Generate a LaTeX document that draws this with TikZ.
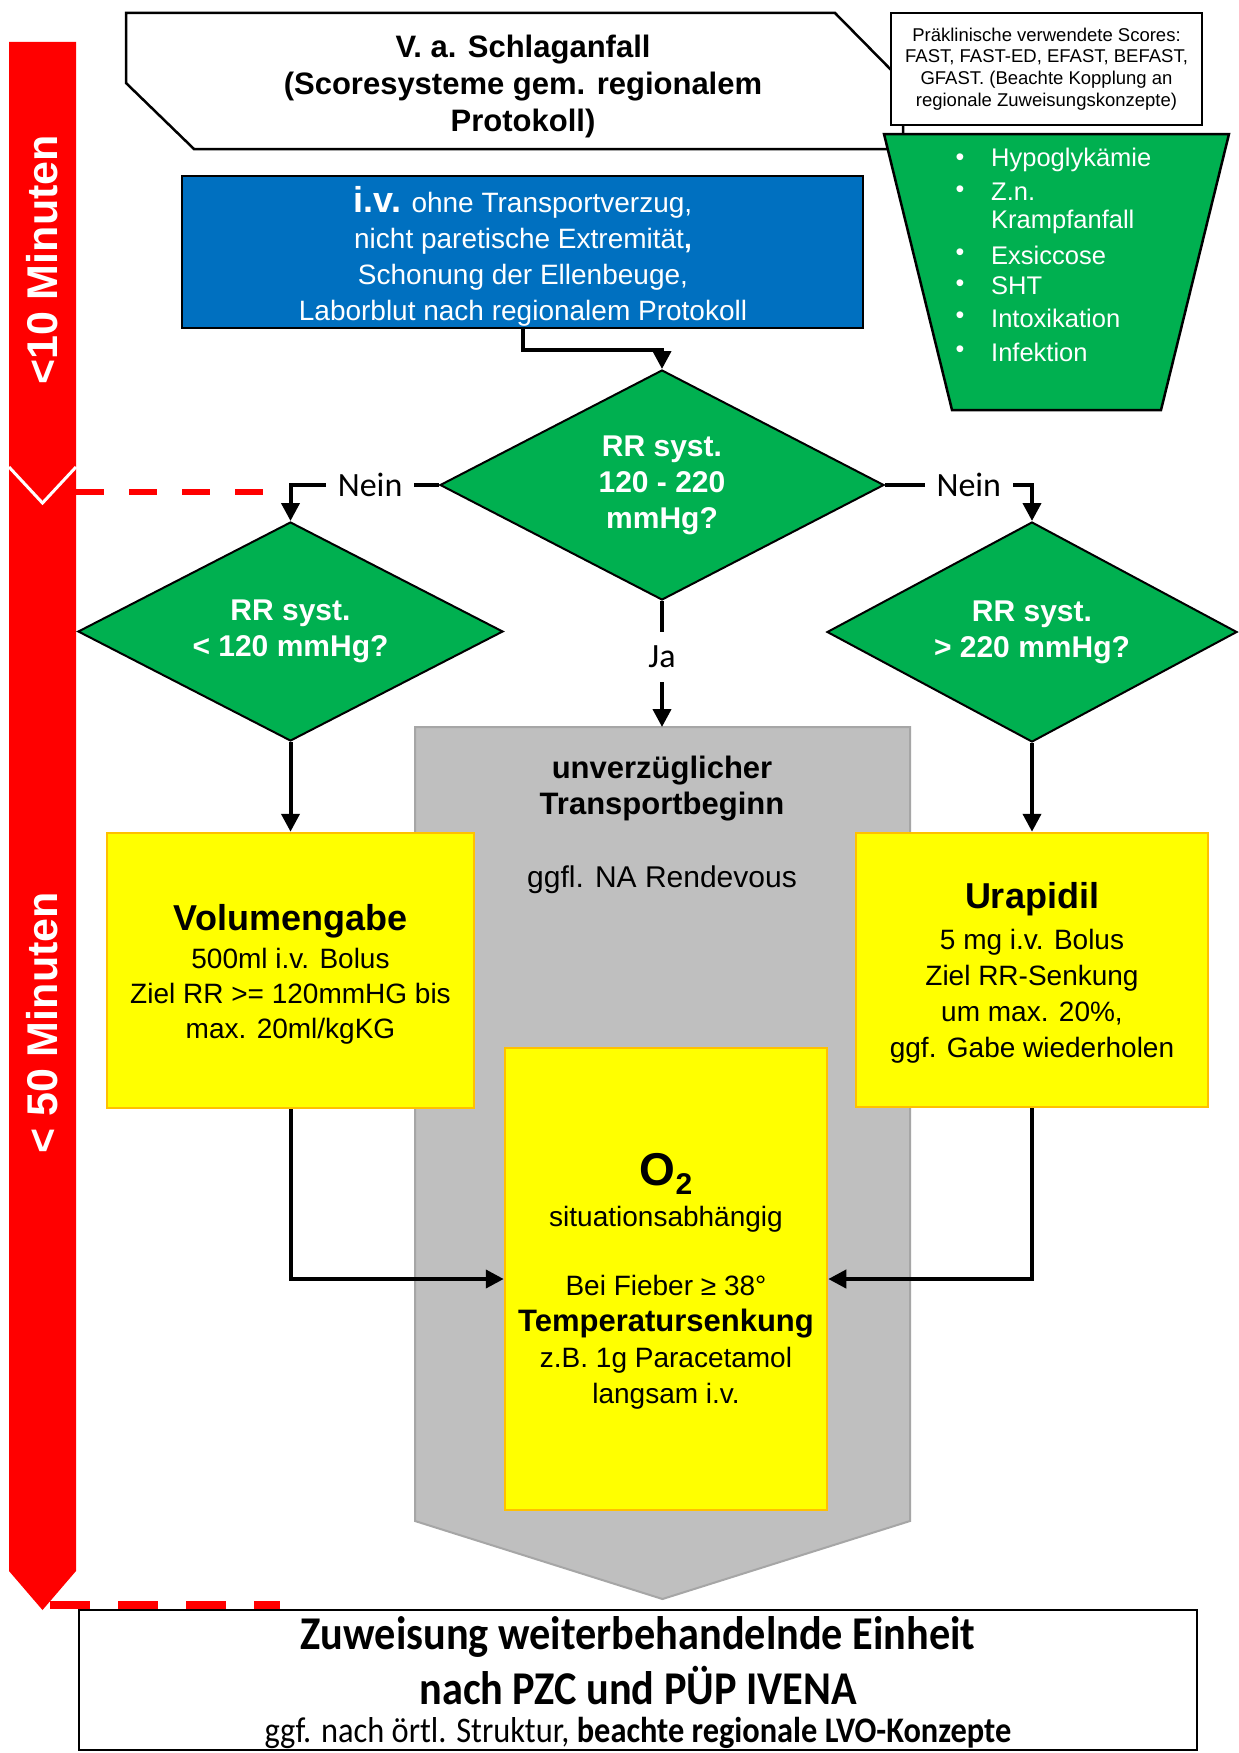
\documentclass[tikz,border=0pt]{standalone}
\usepackage{fontspec}
\setmainfont{Liberation Sans}
\newfontfamily\calfont{Carlito}
\newfontfamily\calnarrow[FakeStretch=0.9]{Carlito}
\usetikzlibrary{shapes.geometric,arrows.meta,calc}
\definecolor{rgreen}{HTML}{00B050}
\definecolor{rblue}{HTML}{0070C0}
\definecolor{rred}{HTML}{FF0000}
\definecolor{ryellow}{HTML}{FFFF00}
\definecolor{rorange}{HTML}{FFC000}
\definecolor{rgray}{HTML}{BFBFBF}
\definecolor{rgrayline}{HTML}{A6A6A6}
\newcommand{\fsz}[2]{\fontsize{#1}{#2}\selectfont}
\begin{document}
\begin{tikzpicture}[x=1pt,y=-1pt,
  decision/.style={diamond, aspect=1.94, draw=black, line width=2pt, fill=rgreen, inner sep=0pt, text=white, align=center, font=\bfseries\fsz{30}{36}},
  conn/.style={line width=4pt, -{Triangle[length=18pt,width=18pt]}},
  ybox/.style={rectangle, draw=rorange, line width=2.5pt, fill=ryellow, inner sep=0pt},
  lbl/.style={fill=white, font=\calfont\fsz{34}{40}, inner xsep=12pt, inner ysep=14pt},
  wtxt/.style={text=white, align=center, inner sep=0pt},
  btxt/.style={text=black, align=center, inner sep=0pt},
  barlbl/.style={rotate=90, text=white, font=\bfseries\fsz{43}{43}, inner sep=0pt},
  reddash/.style={draw=rred}
]
\fill[white] (0,0) rectangle (1239,1753);
\useasboundingbox (0,0) rectangle (1239,1753);

% red time bar
\fill[rred] (9,42) -- (76,42) -- (76,1571) -- (42.5,1610) -- (9,1571) -- cycle;
\draw[white, line width=3pt] (9,467) -- (42.5,503) -- (76,467);
\node[barlbl] (t10) at (42.5,260) {<10 Minuten};
\node[barlbl] (t50) at (42.5,1023) {< 50 Minuten};

% header
\draw[line width=2.5pt, fill=white] (126,13) -- (835,13) -- (903,82) -- (903,149) -- (194,149) -- (126,83) -- cycle;
\node[btxt, font=\bfseries\fsz{31}{37}] (head) at (523,86) {V. a. Schlaganfall\\(Scoresysteme gem. regionalem\\Protokoll)};

% scores note
\node[draw, line width=1.5pt, fill=white, minimum width=311pt, minimum height=112pt, inner sep=0pt, align=center, font=\fsz{18.5}{21.7}] (scores) at (1046.5,69) {Präklinische verwendete Scores:\\FAST, FAST-ED, EFAST, BEFAST,\\GFAST. (Beachte Kopplung an\\regionale Zuweisungskonzepte)};

% green trapezoid
\filldraw[fill=rgreen, draw=black, line width=2.5pt] (884,134) -- (1229,134) -- (1161,410) -- (952,410) -- cycle;
\foreach \yy/\tt/\bb [count=\i] in {160/Hypoglykämie/•, 192/Z.n./•, 222/Krampfanfall/, 255/Exsiccose/•, 286/SHT/•, 318/Intoxikation/•, 352/Infektion/•}{
  \node[text=white, font=\fsz{25}{30}, inner sep=0pt] (bul\i) at (960,\yy) {\bb};
  \node[text=white, font=\fsz{25.5}{30}, anchor=west, inner sep=0pt] (crit\i) at (991,\yy) {\tt};
}

% blue box
\node[draw, line width=2pt, fill=rblue, minimum width=681pt, minimum height=152pt] (blue) at (522.5,252) {};
\node[wtxt, font=\fsz{28}{36}] (bluetxt) at (523,256) {{\fsz{36}{36}\bfseries i.v.} ohne Transportverzug,\\nicht paretische Extremität\textbf{,}\\Schonung der Ellenbeuge,\\Laborblut nach regionalem Protokoll};

% gray transport arrow
\filldraw[fill=rgray, draw=rgrayline, line width=2pt] (415,727) -- (910,727) -- (910,1521) -- (662.5,1599) -- (415,1521) -- cycle;
\coordinate (graytop) at (662,727);
\node[btxt, font=\bfseries\fsz{31}{36}] (trans) at (662,789) {unverzüglicher\\Transportbeginn};
\node[btxt, font=\fsz{30}{34}] (na) at (662,880) {ggfl. NA Rendevous};

% decisions
\node[decision, minimum width=444pt, minimum height=230pt] (d0) at (662,485) {RR syst.\\120 - 220\\mmHg?};
\node[decision, minimum width=425pt, minimum height=219pt] (d1) at (290.5,631.5) {RR syst.\\< 120 mmHg?};
\node[decision, minimum width=410pt, minimum height=220pt] (d2) at (1032,632) {RR syst.\\> 220 mmHg?};

% yellow boxes
\node[ybox, minimum width=367pt, minimum height=275pt] (vol) at (290.5,970.5) {};
\node[ybox, minimum width=352pt, minimum height=274pt] (ura) at (1032,970) {};
\node[ybox, minimum width=322pt, minimum height=462pt] (o2box) at (666,1279) {};

\node[btxt, font=\bfseries\fsz{36}{36}] (voltitle) at (290.5,921) {Volumengabe};
\node[btxt, font=\fsz{28}{35}] (volbody) at (290.5,996) {500ml i.v. Bolus\\Ziel RR >= 120mmHG bis\\max. 20ml/kgKG};
\node[btxt, font=\bfseries\fsz{36}{36}] (uratitle) at (1032,899) {Urapidil};
\node[btxt, font=\fsz{28}{36}] (urabody) at (1032,996) {5 mg i.v. Bolus\\Ziel RR-Senkung\\um max. 20\%,\\ggf. Gabe wiederholen};
\node[btxt] (o2t) at (666,1174) {\fsz{46}{46}\bfseries O\raisebox{-9pt}{\fsz{30}{30}\bfseries 2}};
\node[btxt, font=\fsz{28}{34}] (o2s) at (666,1219) {situationsabhängig};
\node[btxt, font=\fsz{28}{36}] (o2b) at (666,1342) {Bei Fieber ≥ 38°\\{\bfseries\fsz{31}{36}Temperatursenkung}\\z.B. 1g Paracetamol\\langsam i.v.};

% connectors
\draw[conn] (blue.south) -- ++(0,21) -| (d0.north);
\draw[conn] (d0.west) -| (d1.north) node[lbl, pos=0.232] {Nein};
\draw[conn] (d0.east) -| (d2.north) node[lbl, pos=0.285] {Nein};
\draw[conn] (d0.south) -- (graytop) node[lbl, pos=0.445] {Ja};
\draw[conn] (d1.south) -- (vol.north);
\draw[conn] (d2.south) -- (ura.north);
\draw[conn] (vol.south) |- (o2box.west);
\draw[conn] (ura.south) |- (o2box.east);

% bottom box
\node[draw, line width=2.5pt, fill=white, minimum width=1118pt, minimum height=140pt] (zuw) at (638,1680) {};
\node[btxt, font=\calnarrow\bfseries\fsz{47}{47}] (zuw1) at (638,1637) {Zuweisung weiterbehandelnde Einheit};
\node[btxt, font=\calnarrow\bfseries\fsz{47}{47}] (zuw2) at (638,1686) {nach PZC und PÜP IVENA};
\node[btxt, font=\calnarrow\fsz{36}{40}] (zuw3) at (638,1733) {ggf. nach örtl. Struktur, \textbf{beachte regionale LVO-Konzepte}};

% red dashed time markers
\coordinate (rdA) at (76,492);
\coordinate (rdB) at (267,492);
\draw[reddash, line width=6pt, dash pattern=on 28pt off 25pt] (rdA) -- (rdB);
\coordinate (rdC) at (50,1605);
\coordinate (rdD) at (280,1605);
\draw[reddash, line width=8pt, dash pattern=on 40pt off 28pt] (rdC) -- (rdD);
\end{tikzpicture}
\end{document}
